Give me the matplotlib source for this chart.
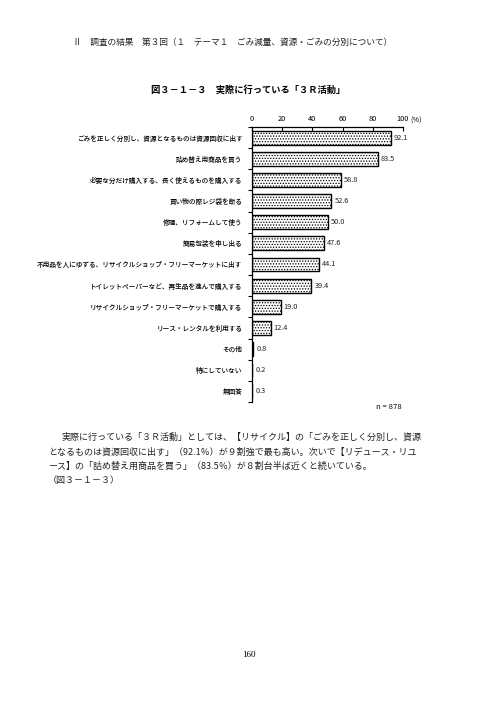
import matplotlib
matplotlib.use("Agg")
import matplotlib.pyplot as plt
from matplotlib.ticker import FixedLocator

plt.rcParams['font.family'] = ['Noto Sans CJK JP', 'DejaVu Sans']
plt.rcParams['hatch.color'] = '#6a6a6a'
plt.rcParams['hatch.linewidth'] = 0.6

categories = [
    "ごみを正しく分別し、資源となるものは資源回収に出す",
    "詰め替え用商品を買う",
    "必要な分だけ購入する、長く使えるものを購入する",
    "買い物の際レジ袋を断る",
    "修理、リフォームして使う",
    "簡易包装を申し出る",
    "不用品を人にゆずる、リサイクルショップ・フリーマーケットに出す",
    "トイレットペーパーなど、再生品を進んで購入する",
    "リサイクルショップ・フリーマーケットで購入する",
    "リース・レンタルを利用する",
    "その他",
    "特にしていない",
    "無回答",
]
values = [92.1, 83.5, 58.8, 52.6, 50.0, 47.6, 44.1, 39.4, 19.0, 12.4, 0.8, 0.2, 0.3]
value_labels = ["92.1", "83.5", "58.8", "52.6", "50.0", "47.6", "44.1", "39.4",
                "19.0", "12.4", "0.8", "0.2", "0.3"]
xticks = [0, 20, 40, 60, 80, 100]

W, H = 496, 702
fig = plt.figure(figsize=(W / 100, H / 100), dpi=100)
fig.patch.set_facecolor('white')

def fx(px):
    return px / W

def fy(py):
    return 1 - py / H

ax = fig.add_axes([fx(252), fy(402), fx(403) - fx(252), fy(127) - fy(402)])
n = len(categories)
ypos = list(range(n))
ax.barh(ypos, values, height=0.66, facecolor='white', edgecolor='black',
        linewidth=1.0, hatch='......')
for y, v, s in zip(ypos, values, value_labels):
    ax.text(v + 2.0, y, s, va='center', ha='left', fontsize=5.3, color='#222222')

ax.set_xlim(0, 100)
ax.set_ylim(n - 0.5, -0.5)
ax.xaxis.set_ticks_position('top')
ax.xaxis.set_label_position('top')
ax.set_xticks(xticks)
ax.set_xticklabels([str(t) for t in xticks], fontsize=5.3)
ax.tick_params(axis='x', direction='in', length=3, width=0.8, pad=3)
ax.set_yticks(ypos)
ax.set_yticklabels(categories, fontsize=4.8, color='black', fontweight='medium')
ax.tick_params(axis='y', length=0, pad=7)
ax.yaxis.set_minor_locator(FixedLocator([i + 0.5 for i in range(-1, n)]))
ax.tick_params(axis='y', which='minor', length=3, width=0.8, direction='out')
for s in ['right', 'bottom']:
    ax.spines[s].set_visible(False)
ax.spines['left'].set_linewidth(0.9)
ax.spines['top'].set_linewidth(0.9)

fig.text(fx(410), fy(121), "(%)", fontsize=5.3, ha='left', va='center')
fig.text(fx(402), fy(407), "n = 878", fontsize=5.6, ha='right', va='center')

fig.text(fx(73), fy(42),
         "Ⅱ　調査の結果　第３回（１　テーマ１　ごみ減量、資源・ごみの分別について）",
         fontsize=6.25, ha='left', va='center', color='#222222')
fig.text(fx(248), fy(90), "図３－１－３　実際に行っている「３Ｒ活動」",
         fontsize=6.7, ha='center', va='center', fontweight='bold')

body = [
    (62, 437, "実際に行っている「３Ｒ活動」としては、【リサイクル】の「ごみを正しく分別し、資源"),
    (48, 452, "となるものは資源回収に出す」（92.1％）が９割強で最も高い。次いで【リデュース・リユ"),
    (48, 466, "ース】の「詰め替え用商品を買う」（83.5％）が８割台半ば近くと続いている。"),
    (48, 480, "（図３－１－３）"),
]
for x, y, t in body:
    fig.text(fx(x), fy(y), t, fontsize=6.5, ha='left', va='center', color='#222222')

fig.text(fx(249), fy(655), "160", fontsize=6.5, ha='center', va='center',
         family=['Liberation Serif', 'DejaVu Serif'])

fig.savefig("out.png", dpi=100, facecolor='white')
